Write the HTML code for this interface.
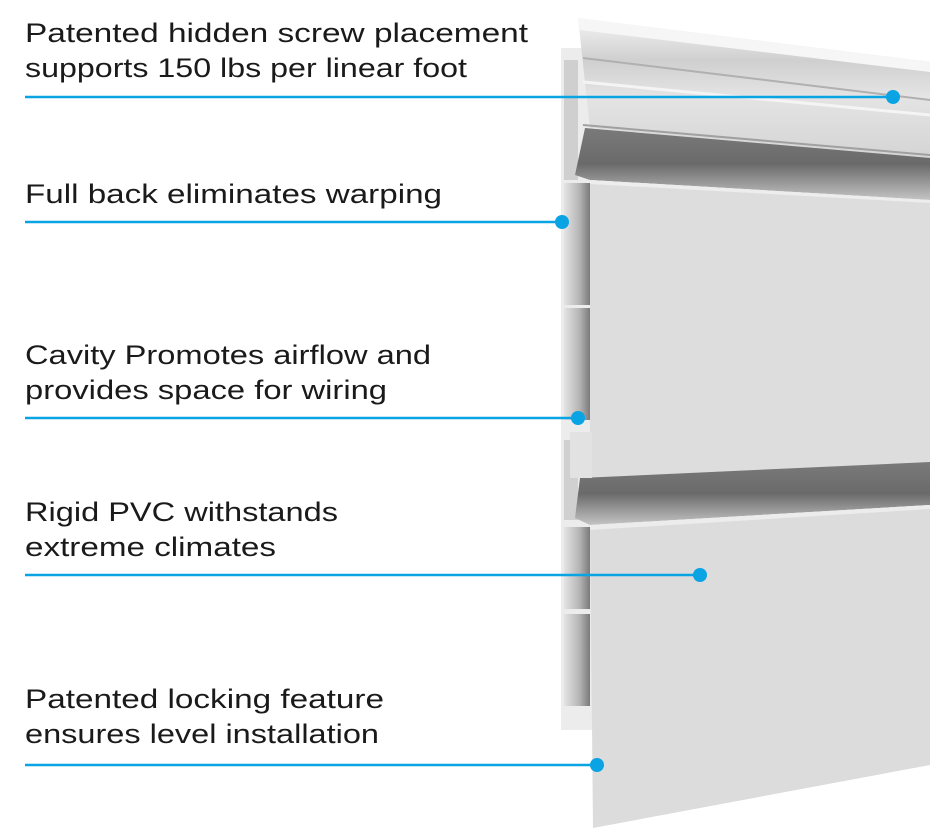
<!DOCTYPE html>
<html><head><meta charset="utf-8"><style>
html,body{margin:0;padding:0;background:#fff;width:930px;height:840px;overflow:hidden}
svg{display:block}
text{font-family:"Liberation Sans",sans-serif;font-size:27px;fill:#1a1a1a}
</style></head><body>
<svg width="930" height="840" viewBox="0 0 930 840" xmlns="http://www.w3.org/2000/svg">
<defs>
<linearGradient id="cav" x1="0" x2="1" y1="0" y2="0"><stop offset="0" stop-color="#e4e4e4"/><stop offset="0.6" stop-color="#b4b4b4"/><stop offset="1" stop-color="#7a7a7a"/></linearGradient>
<linearGradient id="grv" x1="0" x2="0" y1="0" y2="1"><stop offset="0" stop-color="#7a7a7a"/><stop offset="0.5" stop-color="#6a6a6a"/><stop offset="1" stop-color="#c4c4c4"/></linearGradient>
<linearGradient id="rail" x1="0" x2="0" y1="0" y2="1"><stop offset="0" stop-color="#f4f4f4"/><stop offset="0.3" stop-color="#cfcfcf"/><stop offset="0.55" stop-color="#e4e4e4"/><stop offset="1" stop-color="#d4d4d4"/></linearGradient>
</defs>
<rect x="561" y="48" width="32" height="682" fill="#ececec"/>
<rect x="564" y="183" width="26" height="122" fill="url(#cav)"/>
<rect x="564" y="308" width="26" height="112" fill="url(#cav)"/>
<rect x="564" y="527" width="26" height="82" fill="url(#cav)"/>
<rect x="564" y="614" width="26" height="92" fill="url(#cav)"/>
<rect x="564" y="60" width="14" height="120" fill="#cfcfcf"/>
<rect x="564" y="440" width="14" height="80" fill="#d0d0d0"/>
<polygon points="578,18 930,62 930,160 590,128" fill="url(#rail)"/>
<polygon points="578,18 930,62 930,72 580,30" fill="#f6f6f6"/>
<line x1="583" y1="58" x2="930" y2="100" stroke="#b0b0b0" stroke-width="2"/>
<line x1="583" y1="82" x2="930" y2="115" stroke="#f4f4f4" stroke-width="3"/>
<line x1="583" y1="125" x2="930" y2="155" stroke="#a0a0a0" stroke-width="2"/>
<polygon points="585,128 930,158 930,200 590,180 575,175" fill="url(#grv)"/>
<polygon points="590,180 930,200 930,465 590,478" fill="#dedddd"/>
<polygon points="590,180 930,200 930,203 590,184" fill="#ededed"/>
<polygon points="580,478 930,462 930,505 590,525 575,518" fill="url(#grv)"/>
<rect x="570" y="432" width="22" height="46" fill="#e2e2e2"/>
<polygon points="590,525 930,505 930,765 593,828" fill="#dcdcdc"/>
<polygon points="590,525 930,505 930,509 590,530" fill="#ececec"/>
<g stroke="#0aa3e3" stroke-width="2.5" fill="none">
<line x1="25" y1="97" x2="893" y2="97"/>
<line x1="25" y1="222" x2="562" y2="222"/>
<line x1="25" y1="418" x2="578" y2="418"/>
<line x1="25" y1="575" x2="700" y2="575"/>
<line x1="25" y1="765" x2="597" y2="765"/>
</g>
<g fill="#0aa3e3">
<circle cx="893" cy="97" r="7"/>
<circle cx="562" cy="222" r="7"/>
<circle cx="578" cy="418" r="7"/>
<circle cx="700" cy="575" r="7"/>
<circle cx="597" cy="765" r="7"/>
</g>
<text x="25" y="42" textLength="503" lengthAdjust="spacingAndGlyphs">Patented hidden screw placement</text>
<text x="25" y="77" textLength="442" lengthAdjust="spacingAndGlyphs">supports 150 lbs per linear foot</text>
<text x="25" y="203" textLength="417" lengthAdjust="spacingAndGlyphs">Full back eliminates warping</text>
<text x="25" y="364" textLength="406" lengthAdjust="spacingAndGlyphs">Cavity Promotes airflow and</text>
<text x="25" y="399" textLength="362" lengthAdjust="spacingAndGlyphs">provides space for wiring</text>
<text x="25" y="521" textLength="313" lengthAdjust="spacingAndGlyphs">Rigid PVC withstands</text>
<text x="25" y="556" textLength="251" lengthAdjust="spacingAndGlyphs">extreme climates</text>
<text x="25" y="708" textLength="359" lengthAdjust="spacingAndGlyphs">Patented locking feature</text>
<text x="25" y="743" textLength="354" lengthAdjust="spacingAndGlyphs">ensures level installation</text>
</svg>
</body></html>
